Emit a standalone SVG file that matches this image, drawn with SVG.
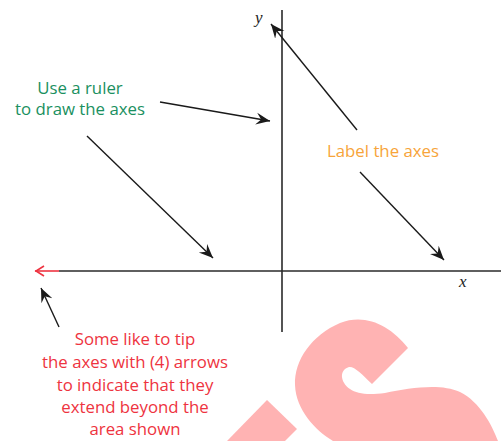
<svg xmlns="http://www.w3.org/2000/svg" width="501" height="441" viewBox="0 0 501 441">
<defs>
<marker id="ah" markerUnits="userSpaceOnUse" markerWidth="16" markerHeight="14" viewBox="-14 -7 16 14" refX="0" refY="0" orient="auto">
<path d="M0,0 L-14,-6 L-9,0 L-14,6 Z" fill="#1a1a1a"/>
</marker>
<style>
.lbl{font-family:"Open Sans","Liberation Sans",sans-serif;font-size:16.8px;text-anchor:middle}
.ax{stroke:#2a2a2a;stroke-width:1.6;fill:none}
.ar{stroke:#1a1a1a;stroke-width:1.4;fill:none;marker-end:url(#ah)}
.var{font-family:"Liberation Serif","DejaVu Serif",serif;font-style:italic;font-size:17px;fill:#222}
.wm{fill:#ffb3b3}
</style>
</defs>
<g id="watermark">
<polygon class="wm" points="267,400 297,429 285,441 227,441"/>
<path class="wm" d="M408 348 L372 384 C362 374 354 366 349 367 C339 370 340 382 350 389 C357 394 368 395 385 393 C410 388 440 383 460 392 C480 402 492 425 498 441 L333 441 C315 430 296 410 295 385 C294 360 312 335 340 323 C365 313 390 325 408 348 Z"/>
</g>
<g id="axes">
<line class="ax" x1="282" y1="10" x2="282" y2="332"/>
<line class="ax" x1="59" y1="271" x2="501" y2="271"/>
<line x1="35" y1="271" x2="59" y2="271" stroke="#ee3340" stroke-width="1.6"/>
<polyline points="44,266 36,271 44,276" fill="none" stroke="#ee3340" stroke-width="1.6"/>
<text class="var" x="255" y="23">y</text>
<text class="var" x="459" y="287">x</text>
</g>
<g id="connectors">
<line class="ar" x1="160" y1="102" x2="270" y2="121"/>
<line class="ar" x1="87" y1="136" x2="213" y2="258"/>
<line class="ar" x1="357" y1="130" x2="271" y2="24"/>
<line class="ar" x1="360" y1="172" x2="444" y2="260"/>
<line class="ar" x1="59" y1="327" x2="41" y2="288"/>
</g>
<g id="ruler-note">
<text class="lbl" fill="#1a9060"><tspan x="80" y="94">Use a ruler</tspan><tspan x="80" y="115">to draw the axes</tspan></text>
</g>
<g id="label-note">
<text class="lbl" fill="#f7a43a" x="383" y="157">Label the axes</text>
</g>
<g id="arrow-note">
<text class="lbl" fill="#ee3340"><tspan x="135" y="345">Some like to tip</tspan><tspan x="135" y="368">the axes with (4) arrows</tspan><tspan x="135" y="391">to indicate that they</tspan><tspan x="135" y="413">extend beyond the</tspan><tspan x="135" y="435">area shown</tspan></text>
</g>
</svg>
